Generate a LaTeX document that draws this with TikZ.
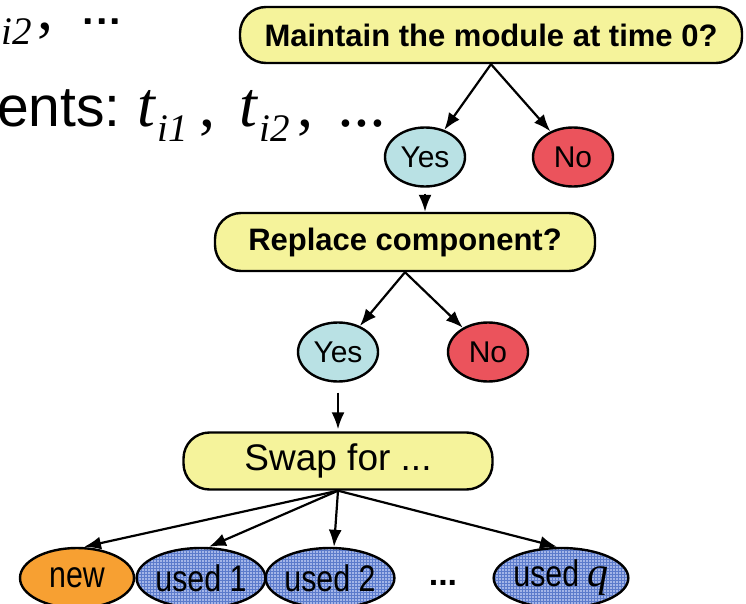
\documentclass[tikz,border=0pt]{standalone}
\usepackage{fontspec}
\setmainfont{Liberation Sans}
\newfontfamily\tnr{Liberation Serif}
\newfontfamily\condsans[FakeStretch=0.82]{Liberation Sans}
\usetikzlibrary{shapes.geometric,arrows.meta,patterns}
\definecolor{qyellow}{HTML}{F5F39B}
\definecolor{yesblue}{HTML}{B9E1E4}
\definecolor{nored}{HTML}{EB535C}
\definecolor{neworange}{HTML}{F7A032}
\definecolor{usedbase}{HTML}{A3B5E8}
\definecolor{usedline}{HTML}{5C7BCB}
\newcommand\fsz[1]{\fontsize{#1}{#1}\selectfont}
\newcommand\tv[1]{\textit{t}\kern1pt\raisebox{-15pt}{\fsz{39}\textit{#1}}}
\tikzset{
  qbox/.style={draw, line width=2.4pt, fill=qyellow, rounded corners=26pt, inner sep=0pt, font=\fsz{31}\bfseries},
  ans/.style={ellipse, draw, line width=2.4pt, minimum width=80pt, minimum height=59pt, inner sep=0pt, font=\fsz{30}},
  opt/.style={ellipse, draw, line width=2.4pt, minimum height=60pt, inner sep=0pt, font=\condsans\fsz{37}},
  used/.style={preaction={fill=usedbase}, pattern=grid, pattern color=usedline},
  arr/.style={line width=2.2pt, -{Latex[length=17pt,width=13pt]}},
  txt/.style={anchor=base west, inner sep=0pt}
}
\begin{document}
\begin{tikzpicture}[x=1pt,y=-1pt]
\useasboundingbox (0,0) rectangle (746,604);
% background text fragments
\node[txt, font=\tnr\fsz{64}] (line1) at (-19,30) {\tv{i2}\hspace{6pt},\hspace{28pt}\raisebox{5pt}{\sffamily\fsz{44}\bfseries ...}};
\node[txt, font=\fsz{57}] (ents) at (-3,127) {ents:};
\node[txt, font=\tnr\fsz{64}] (tt) at (137,127) {\tv{i1}\hspace{12pt},\hspace{24pt}\tv{i2}\hspace{8pt},\hspace{26pt}\textit{...}};
% decision nodes
\node[qbox, minimum width=502pt, minimum height=56pt] (m) at (491,35) {Maintain the module at time 0?};
\node[ans, fill=yesblue] (y1) at (425,157) {Yes};
\node[ans, fill=nored] (n1) at (573,157) {No};
\node[qbox, minimum width=380pt, minimum height=58pt] (r) at (405,242) {Replace component?};
\node[ans, fill=yesblue] (y2) at (338,352) {Yes};
\node[ans, fill=nored] (n2) at (488,352) {No};
\node[qbox, font=\fsz{37}, minimum width=309pt, minimum height=57pt] (s) at (338,461) {Swap for ...};
% options
\node[opt, fill=neworange, minimum width=114pt] (nw) at (77,578) {new};
\node[opt, used, minimum width=118pt] (u1) at (201,578) {used 1};
\node[opt, used, minimum width=124pt] (u2) at (330,578) {used 2};
\node[font=\fsz{34}\bfseries, inner sep=0pt] (dots) at (443,583) {...};
\node[opt, used, minimum width=126pt] (uq) at (561,578) {used {\tnr\fsz{42}\itshape q}};
% connectors
\draw[arr] (m.south) -- (y1);
\draw[arr] (m.south) -- (n1);
\draw[arr, shorten <=6pt] (y1.south) -- (y1.south |- r.north);
\draw[arr] (r.south) -- (y2);
\draw[arr] (r.south) -- (n2);
\draw[arr, shorten <=10pt, shorten >=2pt] (y2.south) -- (y2.south |- s.north);
\draw[arr] (s.south) -- ([xshift=7pt]nw.north);
\draw[arr] (s.south) -- ([xshift=8pt]u1.north);
\draw[arr] (s.south) -- ([xshift=4pt]u2.north);
\draw[arr] (s.south) -- ([xshift=-4pt]uq.north);
\end{tikzpicture}
\end{document}
